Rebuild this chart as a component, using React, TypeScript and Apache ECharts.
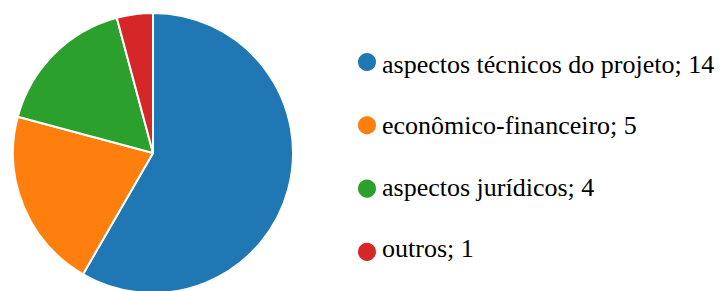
import React, { useEffect, useRef } from "react";
import * as echarts from "echarts";

const categories = ["aspectos técnicos do projeto", "econômico-financeiro", "aspectos jurídicos", "outros"];
const values = [14, 5, 4, 1];
const colors = ["#1f77b4", "#ff7f0e", "#2ca02c", "#d62728"];

const LEGEND_TOP = 51;
const ROW_STEP = 61.3;

export default function App() {
  const ref = useRef<HTMLDivElement>(null);
  useEffect(() => {
    if (!ref.current) return;
    const chart = echarts.init(ref.current, null, { renderer: "svg" });
    const data = categories.map((c, i) => ({ name: c, value: values[i] }));
    chart.setOption({
      animation: false,
      color: colors,
      legend: {
        orient: "vertical",
        left: 356,
        top: LEGEND_TOP,
        padding: 0,
        icon: "circle",
        itemWidth: 20,
        itemHeight: 20,
        itemGap: ROW_STEP - 20,
        data: categories,
        formatter: () => "",
        textStyle: { fontSize: 1, lineHeight: 1 },
      },
      graphic: categories.map((c, i) => ({
        type: "text",
        left: 382,
        top: Math.round(LEGEND_TOP + i * ROW_STEP),
        style: {
          text: c + "; " + values[i],
          fontFamily: "serif",
          fontSize: 26,
          fill: "#000",
        },
      })),
      series: [
        {
          type: "pie",
          center: [153, 153],
          radius: 140,
          startAngle: 90,
          clockwise: true,
          label: { show: false },
          labelLine: { show: false },
          itemStyle: { borderColor: "#fff", borderWidth: 2 },
          emphasis: { disabled: true },
          data,
        },
      ],
    });
    return () => chart.dispose();
  }, []);
  return <div ref={ref} style={{ width: 726, height: 291, position: "absolute", left: 0, top: 0 }} />;
}
